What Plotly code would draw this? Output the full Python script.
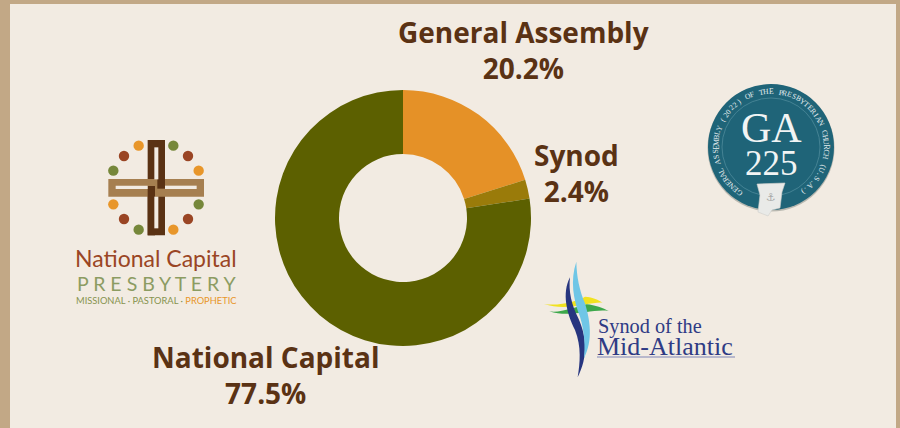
import math
import plotly.graph_objects as go

labels = ["General Assembly", "Synod", "National Capital"]
values = [20.2, 2.4, 77.5]
colors = ["#E59127", "#9A7B0A", "#5C6000"]

W, H = 900, 428
BG, EDGE = "#F2EBE2", "#C2A886"
BROWN, TAN, ORANGE, GREEN, RUST = "#5A3214", "#A67F50", "#E8962A", "#76873A", "#9A4524"
TEAL, NAVY, SKY = "#1F6478", "#27357F", "#6FC6E6"


def px(x):
    return x / W


def py(y):
    return 1 - y / H


shapes, notes = [], []


def rect(x0, y0, x1, y1, fill, line=None, width=0):
    shapes.append(dict(type="rect", xref="paper", yref="paper", x0=px(x0), x1=px(x1),
                       y0=py(y0), y1=py(y1), fillcolor=fill, layer="below",
                       line=dict(color=line or fill, width=width)))


def circle(cx, cy, r, fill, line=None, width=0):
    shapes.append(dict(type="circle", xref="paper", yref="paper", x0=px(cx - r), x1=px(cx + r),
                       y0=py(cy + r), y1=py(cy - r), fillcolor=fill, layer="below",
                       line=dict(color=line or fill, width=width)))


def path(points, fill, line=None, width=0):
    d = ""
    for cmd, coords in points:
        n = {"M": 2, "L": 2, "C": 6}[cmd]
        for s in range(0, len(coords), n):
            seg = coords[s:s + n]
            d += cmd + " ".join(f"{px(seg[i]):.5f},{py(seg[i + 1]):.5f}"
                                for i in range(0, n, 2)) + " "
    shapes.append(dict(type="path", path=d + "Z", xref="paper", yref="paper",
                       fillcolor=fill, layer="below", line=dict(color=line or fill, width=width)))


def text(x, y, s, size, color, family="Open Sans", anchor="center", angle=0):
    notes.append(dict(xref="paper", yref="paper", x=px(x), y=py(y), text=s, showarrow=False,
                      xanchor=anchor, yanchor="middle", textangle=angle, align="center",
                      font=dict(family=family, size=size, color=color)))


# page frame
rect(0, 0, W, 4, EDGE)
rect(0, 0, 10, H, EDGE)
rect(W - 4, 0, W, H, EDGE)

# National Capital Presbytery logo (crop coordinates / 3 + offset)
def z1(a, b):
    return 60 + a / 3, 120 + b / 3


dots = [(236, 77, ORANGE), (340, 77, GREEN), (192, 108, RUST), (384, 108, RUST),
        (160, 152, GREEN), (416, 152, ORANGE), (160, 253, ORANGE), (416, 253, GREEN),
        (192, 297, RUST), (384, 297, RUST), (236, 329, GREEN), (340, 329, ORANGE)]
for a, b, c in dots:
    x, y = z1(a, b)
    circle(x, y, 5.2, c)
rect(*z1(263, 60), *z1(315, 346), BROWN)
rect(*z1(145, 177), *z1(432, 230), TAN)
rect(*z1(263, 198), *z1(285, 346), BROWN)
rect(*z1(292, 60), *z1(315, 206), BROWN)
rect(*z1(283, 82), *z1(295, 178), BG)
rect(*z1(283, 230), *z1(295, 325), BG)
rect(*z1(167, 197), *z1(263, 207), BG)
rect(*z1(315, 197), *z1(410, 207), BG)
text(156, 258, "National Capital", 23, RUST, "Lato")
text(156, 283, "P R E S B Y T E R Y", 19.5, "#8C9C62", "Lato")
notes.append(dict(xref="paper", yref="paper", x=px(156), y=py(300), showarrow=False,
                  xanchor="center", yanchor="middle",
                  text=f"<span style='color:#87934F'>MISSIONAL · PASTORAL ·</span> "
                       f"<span style='color:{ORANGE}'>PROPHETIC</span>",
                  font=dict(family="Lato", size=9.3)))

# GA 225 seal
SX, SY = 771, 147
circle(SX, SY + 1, 63.5, "#B9B8B0")
circle(SX, SY, 63, TEAL)
circle(SX, SY, 49, TEAL, "#4E8A9A", 0.8)
text(SX, 128, "GA", 42, "#F1F4F4", "Liberation Serif")
text(SX, 163, "225", 35, "#F1F4F4", "Liberation Serif")
seal = "GENERAL ASSEMBLY (2022) OF THE PRESBYTERIAN CHURCH (U.S.A.)"
START, SPAN = -145, 290
for i, ch in enumerate(seal):
    ang = START + SPAN * i / (len(seal) - 1)
    r = 55.5
    text(SX + r * math.sin(math.radians(ang)), SY - r * math.cos(math.radians(ang)),
         ch, 7.6, "#E6EEF0", "Liberation Serif", angle=ang)
path([("M", [757, 184]), ("L", [785, 183, 782, 192, 780, 208, 772, 210, 768, 216, 758, 212, 760, 195])],
     "#E9EAE8", "#CFCFCB", 0.6)
text(771, 197, "⚓", 11, "#A9ABA8", "DejaVu Sans")

# Synod of the Mid-Atlantic logo
def z3(*pts):
    out = []
    for i in range(0, len(pts), 2):
        out += [530 + pts[i] / 3, 250 + pts[i + 1] / 3]
    return out


path([("M", z3(42, 162)), ("C", z3(90, 170, 150, 150, 165, 140, 190, 142, 205, 150, 218, 158)),
      ("C", z3(180, 155, 110, 185, 42, 162))], "#F1E21F")
path([("M", z3(58, 184)), ("C", z3(90, 190, 140, 170, 170, 163, 195, 165, 220, 175, 236, 183)),
      ("C", z3(190, 175, 120, 205, 58, 184))], "#3DA84B")
path([("M", z3(120, 82)), ("C", z3(95, 130, 110, 190, 135, 240, 155, 290, 150, 340, 143, 382)),
      ("C", z3(175, 320, 170, 260, 145, 205, 125, 165, 115, 125, 120, 82))], NAVY)
path([("M", z3(139, 35)), ("C", z3(120, 90, 130, 150, 150, 200, 165, 250, 165, 290, 162, 325)),
      ("C", z3(190, 270, 180, 210, 165, 160, 148, 120, 140, 80, 139, 35))], SKY)
text(596, 326, "Synod of the", 20.3, "#2F3B85", "Liberation Serif", anchor="left")
text(595, 346, "Mid-Atlantic", 26, "#2F3B85", "Liberation Serif", anchor="left")
rect(597, 356.5, 735, 357.6, "#7F86B5")

# slice labels
label_pos = [(523, 50), (576, 173), (265, 375)]
for (x, y), name, v in zip(label_pos, labels, values):
    text(x, y, f"<b>{name}<br>{v:.1f}%</b>", 28, BROWN)

fig = go.Figure(go.Pie(
    labels=labels, values=values, hole=0.5, sort=False, direction="clockwise", rotation=0,
    marker=dict(colors=colors, line=dict(width=0)), textinfo="none",
    domain=dict(x=[275 / W, 531 / W], y=[1 - 346 / H, 1 - 90 / H]),
))
fig.update_layout(width=W, height=H, margin=dict(l=0, r=0, t=0, b=0), autosize=False,
                  paper_bgcolor=BG, plot_bgcolor=BG, showlegend=False,
                  shapes=shapes, annotations=notes)
fig.write_html("out.html", config=dict(displayModeBar=False),
               post_script="document.body.style.margin='0';document.body.style.overflow='hidden';")
